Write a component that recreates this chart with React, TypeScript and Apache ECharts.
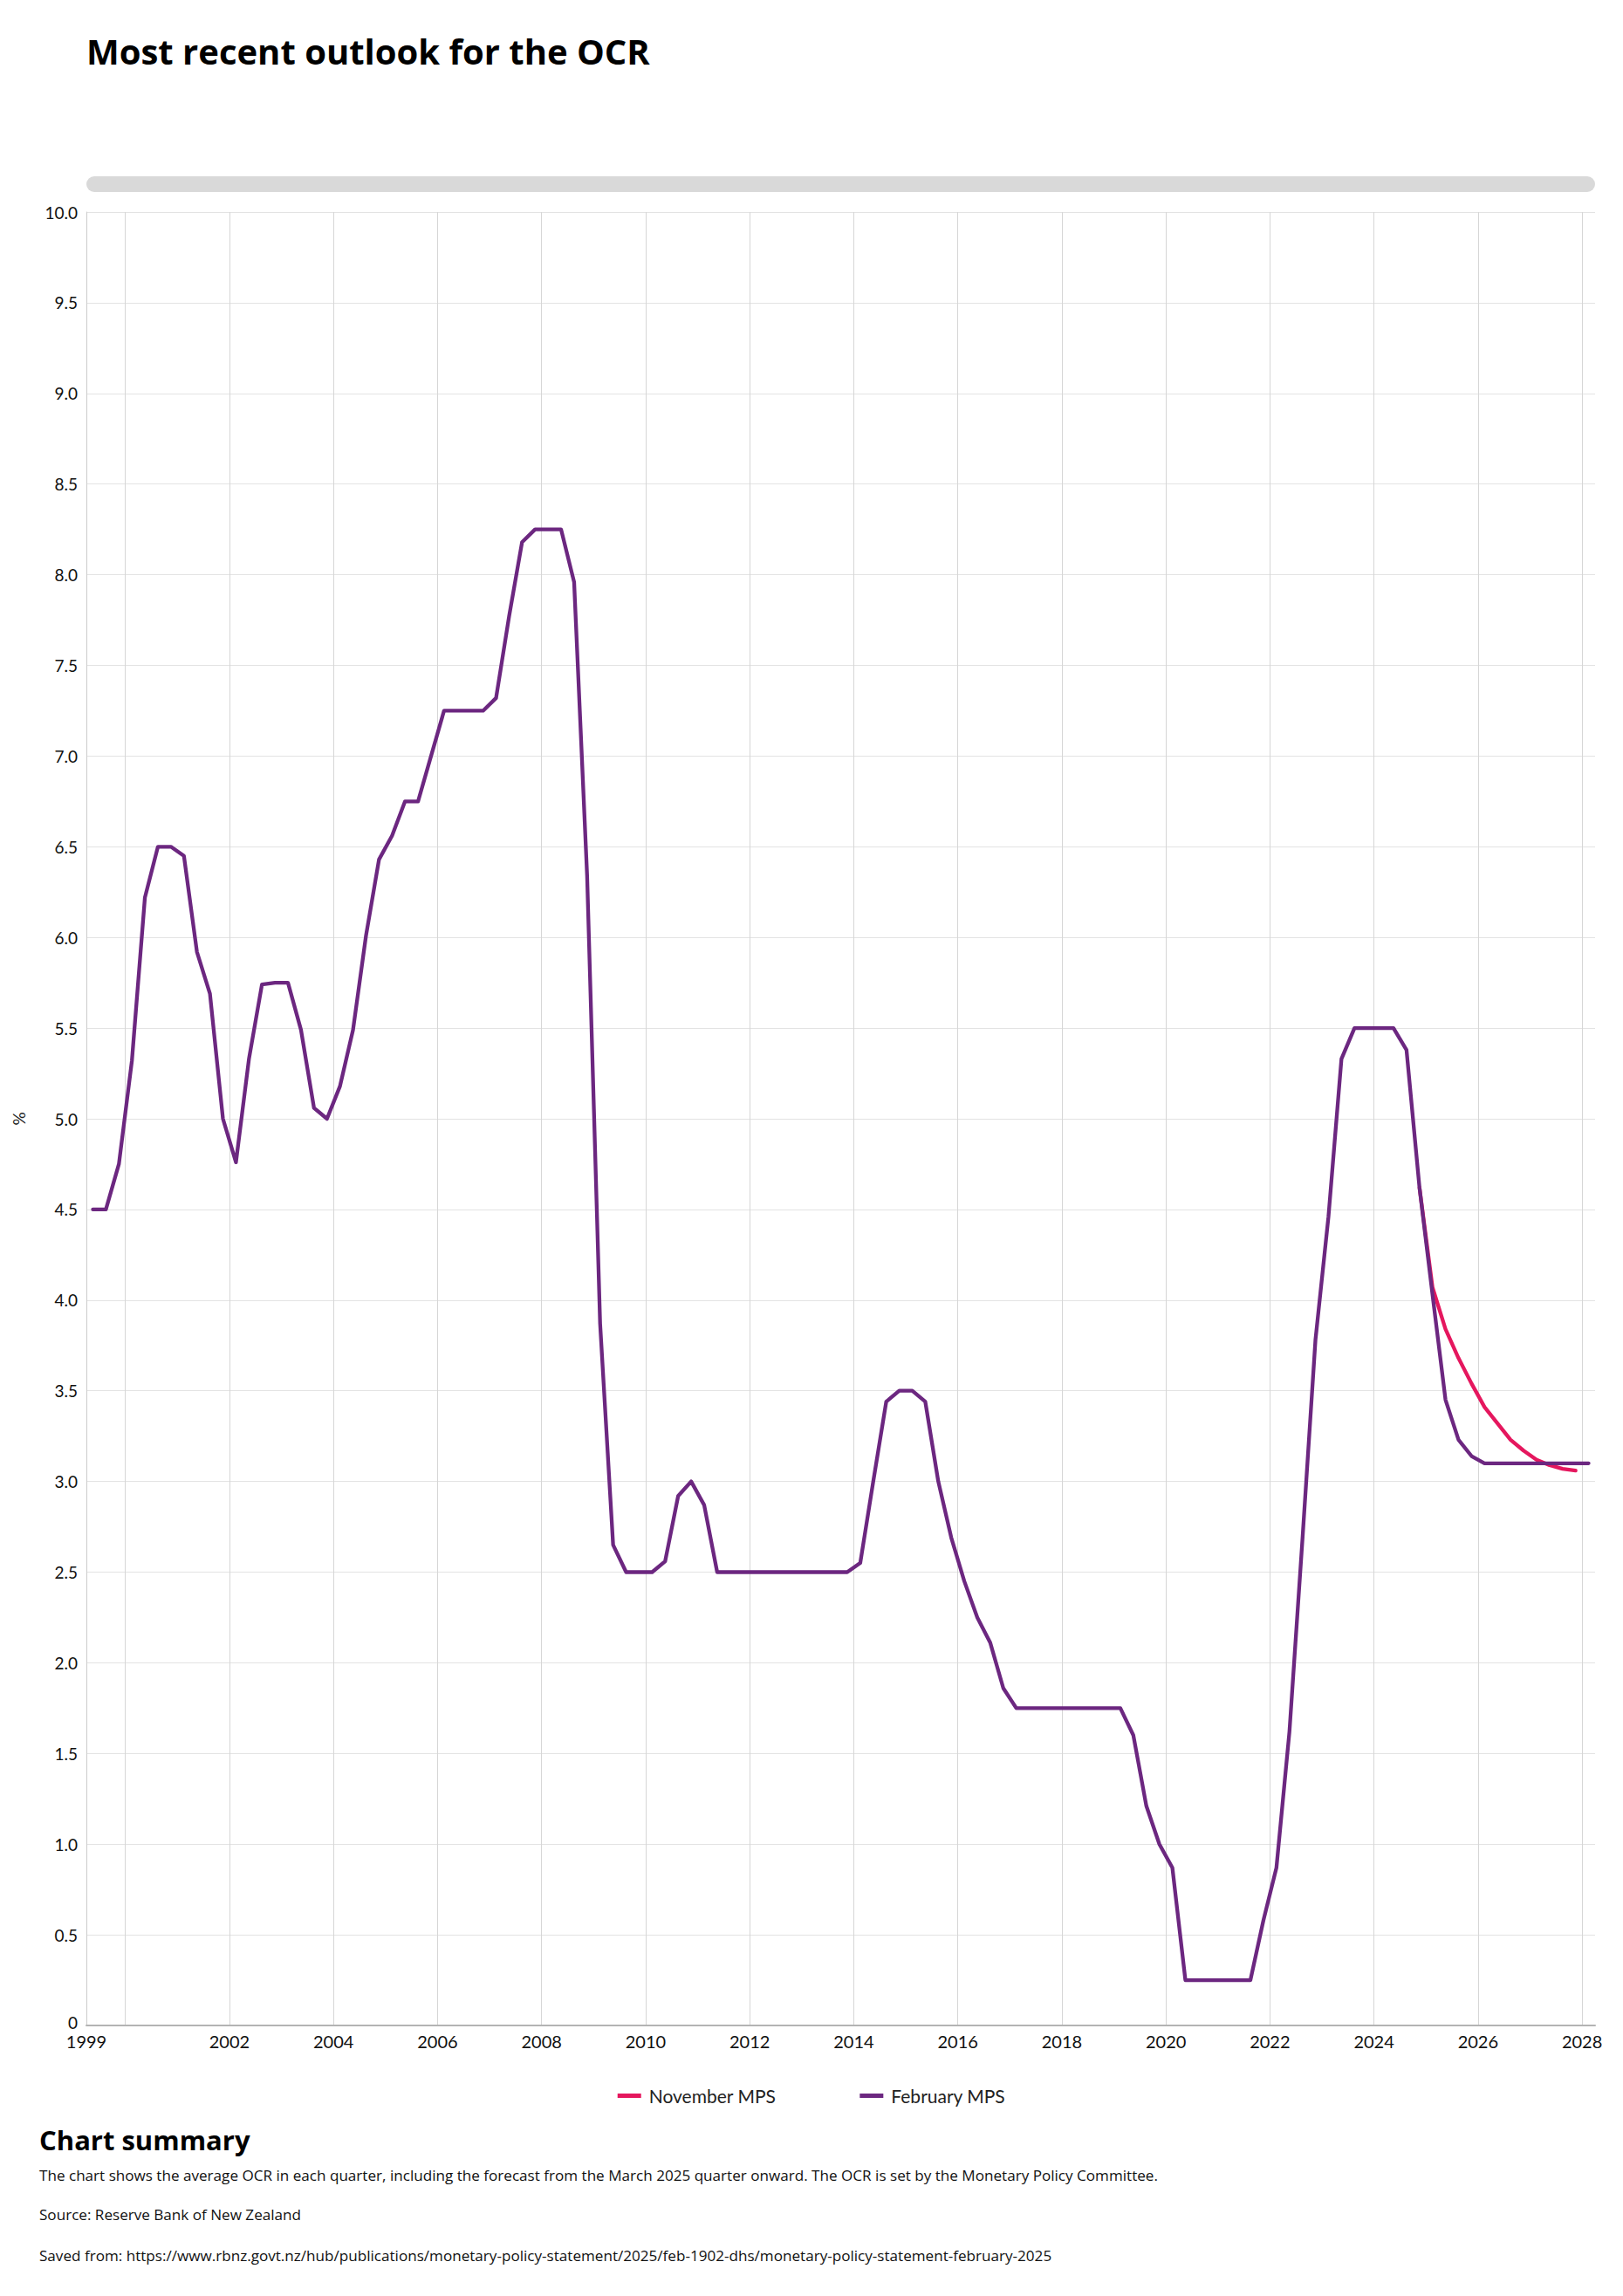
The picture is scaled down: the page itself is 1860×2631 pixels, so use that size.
import React, { useEffect, useRef } from "react";
import * as echarts from "echarts";

const TITLE = "Most recent outlook for the OCR";
const SERIES_NAMES = ["November MPS", "February MPS"];
const SERIES_COLORS = ["#e5175e", "#6c2780"];

// Quarterly average OCR (%), February 2025 MPS, from 1999 Q2 to 2028 Q1
const februaryStart = { year: 1999, quarter: 2 };
const februaryMPS = [
  4.5, 4.5, 4.75,
  5.32, 6.22, 6.5, 6.5,
  6.45, 5.92, 5.69, 5.0,
  4.76, 5.33, 5.74, 5.75,
  5.75, 5.49, 5.06, 5.0,
  5.18, 5.49, 6.01, 6.43,
  6.56, 6.75, 6.75, 7.0,
  7.25, 7.25, 7.25, 7.25,
  7.32, 7.77, 8.18, 8.25,
  8.25, 8.25, 7.96, 6.34,
  3.87, 2.65, 2.5, 2.5,
  2.5, 2.56, 2.92, 3.0,
  2.87, 2.5, 2.5, 2.5,
  2.5, 2.5, 2.5, 2.5,
  2.5, 2.5, 2.5, 2.5,
  2.55, 3.0, 3.44, 3.5,
  3.5, 3.44, 3.0, 2.69,
  2.45, 2.25, 2.11, 1.86,
  1.75, 1.75, 1.75, 1.75,
  1.75, 1.75, 1.75, 1.75,
  1.75, 1.6, 1.21, 1.0,
  0.87, 0.25, 0.25, 0.25,
  0.25, 0.25, 0.25, 0.58,
  0.87, 1.62, 2.68, 3.78,
  4.46, 5.33, 5.5, 5.5,
  5.5, 5.5, 5.38, 4.62,
  4.03, 3.45, 3.23, 3.14,
  3.1, 3.1, 3.1, 3.1,
  3.1, 3.1, 3.1, 3.1,
  3.1,
];

// November 2024 MPS projection, from 2024 Q4 to 2027 Q4
const novemberStart = { year: 2024, quarter: 4 };
const novemberMPS = [4.62, 4.07, 3.84, 3.68, 3.54, 3.41, 3.32, 3.23, 3.17, 3.12, 3.09, 3.07, 3.06];

// Axis
const X_MIN = 1999.25;
const X_MAX = 2028.25;
const xLabelYears = [1999.25, 2002, 2004, 2006, 2008, 2010, 2012, 2014, 2016, 2018, 2020, 2022, 2024, 2026, 2028];
const xGridYears = [2000, 2002, 2004, 2006, 2008, 2010, 2012, 2014, 2016, 2018, 2020, 2022, 2024, 2026, 2028];
const Y_MIN = 0;
const Y_MAX = 10;
const Y_STEP = 0.5;
const Y_NAME = "%";

const SUMMARY_HEADING = "Chart summary";
const SUMMARY_TEXT =
  "The chart shows the average OCR in each quarter, including the forecast from the March 2025 quarter onward. The OCR is set by the Monetary Policy Committee.";
const SOURCE_TEXT = "Source: Reserve Bank of New Zealand";
const SAVED_TEXT =
  "Saved from: https://www.rbnz.govt.nz/hub/publications/monetary-policy-statement/2025/feb-1902-dhs/monetary-policy-statement-february-2025";

function toPoints(start: { year: number; quarter: number }, values: number[]) {
  return values.map((v, i) => {
    const qi = start.quarter - 1 + i;
    const year = start.year + Math.floor(qi / 4);
    const q = qi % 4;
    return [year + q / 4 + 0.125, v];
  });
}

const W = 1860;
const H = 2631;
const PLOT_LEFT = 99;
const PLOT_RIGHT = 1828;
const PLOT_TOP = 243;
const PLOT_BOTTOM = 2321;
const AXIS_FONT = "Lato, 'Open Sans', sans-serif";
const TEXT_FONT = "'Open Sans', 'Noto Sans', sans-serif";

export default function App() {
  const ref = useRef<HTMLDivElement>(null);

  useEffect(() => {
    if (!ref.current) return;
    const chart = echarts.init(ref.current, undefined, { renderer: "svg" });
    const option: any = {
      animation: false,
      backgroundColor: "#ffffff",
      title: {
        text: TITLE,
        left: 94,
        top: 33,
        textStyle: { fontFamily: TEXT_FONT, fontSize: 40, fontWeight: "bold", color: "#000" },
      },
      grid: { left: PLOT_LEFT, right: W - PLOT_RIGHT, top: PLOT_TOP, bottom: H - PLOT_BOTTOM },
      legend: {
        top: 2386,
        left: "center",
        itemGap: 96,
        itemWidth: 27,
        itemHeight: 5,
        icon: "rect",
        textStyle: { fontFamily: AXIS_FONT, fontSize: 21, color: "#222", padding: [0, 0, 0, 4] },
        data: SERIES_NAMES,
      },
      xAxis: {
        type: "value",
        min: X_MIN,
        max: X_MAX,
        axisLine: { show: true, lineStyle: { color: "#b3b3b3", width: 2 } },
        axisTick: { show: false, customValues: xGridYears },
        axisLabel: {
          customValues: xLabelYears,
          formatter: (v: number) => String(Math.floor(v)),
          fontFamily: AXIS_FONT,
          fontSize: 20,
          color: "#111",
          margin: 8,
          showMinLabel: true,
          showMaxLabel: true,
        },
        splitLine: { show: true, lineStyle: { color: "#d6d6d6", width: 1 } },
      },
      yAxis: {
        type: "value",
        min: Y_MIN,
        max: Y_MAX,
        interval: Y_STEP,
        name: Y_NAME,
        nameLocation: "middle",
        nameRotate: 90,
        nameGap: 68,
        nameTextStyle: { fontFamily: AXIS_FONT, fontSize: 19, color: "#222" },
        axisLine: { show: true, lineStyle: { color: "#cccccc", width: 1 } },
        axisTick: { show: false },
        axisLabel: {
          formatter: (v: number) => (v === 0 ? "{zero|0}" : v.toFixed(1)),
          fontFamily: AXIS_FONT,
          fontSize: 19,
          color: "#111",
          margin: 10,
          rich: {
            zero: { fontFamily: AXIS_FONT, fontSize: 19, color: "#111", padding: [0, 0, 8, 0] },
          },
        },
        splitLine: { show: true, lineStyle: { color: "#e3e3e3", width: 1 } },
      },
      graphic: [
        {
          type: "rect",
          shape: { x: PLOT_LEFT, y: 202, width: PLOT_RIGHT - PLOT_LEFT, height: 18, r: 9 },
          style: { fill: "#d9d9d9" },
        },
        {
          type: "text",
          x: 45,
          y: 2452,
          style: {
            text: SUMMARY_HEADING,
            font: `bold 31px ${TEXT_FONT}`,
            fill: "#000",
            textVerticalAlign: "middle",
          },
        },
        {
          type: "text",
          x: 45,
          y: 2492,
          style: { text: SUMMARY_TEXT, font: `17.1px ${TEXT_FONT}`, fill: "#111", textVerticalAlign: "middle" },
        },
        {
          type: "text",
          x: 45,
          y: 2537,
          style: { text: SOURCE_TEXT, font: `17.1px ${TEXT_FONT}`, fill: "#111", textVerticalAlign: "middle" },
        },
        {
          type: "text",
          x: 45,
          y: 2584,
          style: { text: SAVED_TEXT, font: `17.1px ${TEXT_FONT}`, fill: "#111", textVerticalAlign: "middle" },
        },
      ],
      series: [
        {
          name: SERIES_NAMES[0],
          type: "line",
          data: toPoints(novemberStart, novemberMPS),
          symbol: "none",
          color: SERIES_COLORS[0],
          lineStyle: { width: 4.3, color: SERIES_COLORS[0], join: "round", cap: "round" },
          z: 2,
        },
        {
          name: SERIES_NAMES[1],
          type: "line",
          data: toPoints(februaryStart, februaryMPS),
          symbol: "none",
          color: SERIES_COLORS[1],
          lineStyle: { width: 4.3, color: SERIES_COLORS[1], join: "round", cap: "round" },
          z: 3,
        },
      ],
    };
    chart.setOption(option);
    return () => chart.dispose();
  }, []);

  return (
    <div
      ref={ref}
      style={{ position: "absolute", left: 0, top: 0, width: W, height: H, background: "#fff" }}
    />
  );
}
